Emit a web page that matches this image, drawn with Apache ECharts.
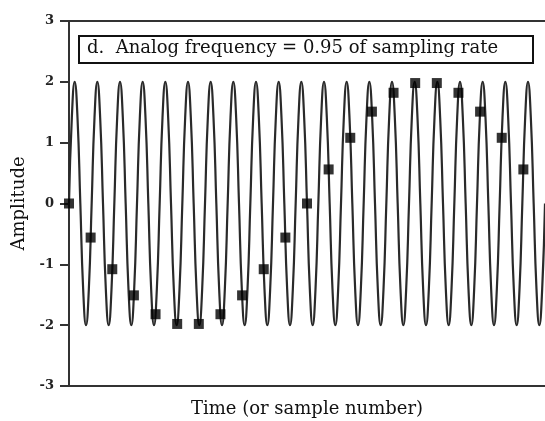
<!DOCTYPE html>
<html>
<head>
<meta charset="utf-8">
<script src="https://cdn.jsdelivr.net/npm/echarts@6/dist/echarts.min.js"></script>
<style>
html,body{margin:0;padding:0;background:#fff;}
#c{width:545px;height:421px;}
</style>
</head>
<body>
<div id="c"></div>
<script>
// Sample numbers and sampled values (black squares)
var sampleN = [0,1,2,3,4,5,6,7,8,9,10,11,12,13,14,15,16,17,18,19,20,21];
var sampleY = [0,-0.56,-1.08,-1.51,-1.82,-1.98,-1.98,-1.82,-1.51,-1.08,-0.56,0,0.56,1.08,1.51,1.82,1.98,1.98,1.82,1.51,1.08,0.56];
// Analog waveform, read at eighth-period steps (21 cycles across 22 samples)
var waveY = [
0,1.41,2,1.41,0,-1.41,-2,-1.41,
0,1.41,2,1.41,0,-1.41,-2,-1.41,
0,1.41,2,1.41,0,-1.41,-2,-1.41,
0,1.41,2,1.41,0,-1.41,-2,-1.41,
0,1.41,2,1.41,0,-1.41,-2,-1.41,
0,1.41,2,1.41,0,-1.41,-2,-1.41,
0,1.41,2,1.41,0,-1.41,-2,-1.41,
0,1.41,2,1.41,0,-1.41,-2,-1.41,
0,1.41,2,1.41,0,-1.41,-2,-1.41,
0,1.41,2,1.41,0,-1.41,-2,-1.41,
0,1.41,2,1.41,0,-1.41,-2,-1.41,
0,1.41,2,1.41,0,-1.41,-2,-1.41,
0,1.41,2,1.41,0,-1.41,-2,-1.41,
0,1.41,2,1.41,0,-1.41,-2,-1.41,
0,1.41,2,1.41,0,-1.41,-2,-1.41,
0,1.41,2,1.41,0,-1.41,-2,-1.41,
0,1.41,2,1.41,0,-1.41,-2,-1.41,
0,1.41,2,1.41,0,-1.41,-2,-1.41,
0,1.41,2,1.41,0,-1.41,-2,-1.41,
0,1.41,2,1.41,0,-1.41,-2,-1.41,
0,1.41,2,1.41,0,-1.41,-2,-1.41,
0
];
var yTicks = [-3,-2,-1,0,1,2,3];
var titleText = 'd.  Analog frequency = 0.95 of sampling rate';
var xTitle = 'Time (or sample number)';
var yTitle = 'Amplitude';

var serif = '"DejaVu Serif", "Liberation Serif", serif';
var chart = echarts.init(document.getElementById('c'), null, {renderer:'canvas'});
chart.setOption({
  animation:false,
  backgroundColor:'#fff',
  grid:{left:69, right:0, top:21, bottom:35, outerBoundsMode:'none', containLabel:false},
  xAxis:[
    {type:'value', min:0, max:22, position:'bottom',
     axisLine:{show:true, onZero:false, lineStyle:{color:'#333', width:2}},
     axisTick:{show:false}, axisLabel:{show:false}, splitLine:{show:false},
     name:xTitle, nameLocation:'middle', nameGap:14,
     nameTextStyle:{fontFamily:serif, fontSize:18, color:'#111'}},
    {type:'category', data:waveY.map(function(_,i){return String(i);}), boundaryGap:false,
     position:'top',
     axisLine:{show:true, onZero:false, lineStyle:{color:'#333', width:2}},
     axisTick:{show:false}, axisLabel:{show:false}, splitLine:{show:false}}
  ],
  yAxis:{type:'value', min:yTicks[0], max:yTicks[yTicks.length-1], interval:1,
    axisLine:{show:true, onZero:false, lineStyle:{color:'#333', width:2}},
    axisTick:{show:true, inside:false, length:9, lineStyle:{color:'#333', width:2}},
    axisLabel:{fontFamily:serif, fontSize:13, fontWeight:'bold', color:'#222', margin:15},
    splitLine:{show:false},
    name:yTitle, nameLocation:'middle', nameGap:34, nameRotate:90,
    nameTextStyle:{fontFamily:serif, fontSize:18, color:'#111'}},
  graphic:[
    {type:'rect', left:78, top:35, z:10,
     shape:{width:454, height:27},
     style:{fill:'#fff', stroke:'#111', lineWidth:2}},
    {type:'text', left:87, top:39, z:11,
     style:{text:titleText, font:'18px ' + serif, fill:'#111'}}
  ],
  series:[
    {type:'line', xAxisIndex:1, data:waveY, smooth:true, symbol:'none',
     lineStyle:{color:'#2a2a2a', width:2.2}, z:2},
    {type:'scatter', xAxisIndex:0, data:sampleN.map(function(n,i){return [n, sampleY[i]];}),
     symbol:'rect', symbolSize:10, itemStyle:{color:'#000'}, z:5}
  ]
});
</script>
</body>
</html>
